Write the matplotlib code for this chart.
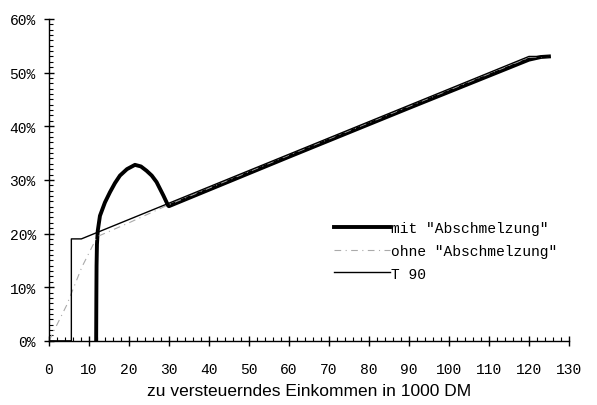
import matplotlib.pyplot as plt
from matplotlib.ticker import MultipleLocator, FuncFormatter

# income in 1000 DM, rate in %
t90_x = [0, 5.6, 5.6, 8.1, 120, 125]
t90_y = [0, 0, 19, 19, 53, 53]

mit_x = [11.8, 11.85, 11.9, 12.0, 12.2, 12.75, 14.0, 15.25, 16.5, 17.75, 19.5,
         21.5, 23.0, 24.4, 25.7, 26.9, 28.6, 29.8, 30, 60, 90, 120, 123, 125]
mit_y = [0, 8, 14, 18, 20.5, 23.3, 25.8, 27.7, 29.4, 30.8, 32.0,
         32.8, 32.5, 31.7, 30.8, 29.6, 27.1, 25.2, 25.1, 34.3, 43.4, 52.4, 52.9, 53]

ohne_x = [0, 4.4, 8.2, 11.1, 12, 20, 30, 60, 90, 120, 125]
ohne_y = [0, 6.6, 13.7, 18, 19.4, 22.0, 25.4, 34.6, 43.7, 52.8, 53]

plt.rcParams["font.family"] = "Liberation Mono"

fig = plt.figure(figsize=(5.97, 4.06), dpi=100)
ax = fig.add_axes([0.082, 0.158, 0.871, 0.793])

ax.plot(mit_x, mit_y, color="black", lw=2.8, label='mit "Abschmelzung"',
        solid_joinstyle="round")
ax.plot(ohne_x, ohne_y, color="#aaaaaa", lw=0.8, ls=(0, (6, 4, 1, 4)),
        label='ohne "Abschmelzung"')
ax.plot(t90_x, t90_y, color="black", lw=1.0, label="T 90")

ax.set_xlim(0, 130)
ax.set_ylim(0, 60)
ax.xaxis.set_major_locator(MultipleLocator(10))
ax.xaxis.set_minor_locator(MultipleLocator(2))
ax.yaxis.set_major_locator(MultipleLocator(10))
ax.yaxis.set_minor_locator(MultipleLocator(1))
ax.yaxis.set_major_formatter(FuncFormatter(lambda v, p: f"{v:.0f}%"))

for s in ["top", "right"]:
    ax.spines[s].set_visible(False)
ax.spines["left"].set_linewidth(1.0)
ax.spines["bottom"].set_linewidth(1.0)

ax.tick_params(which="major", direction="inout", length=7, width=1,
               labelsize=10.5, pad=6)
ax.tick_params(which="minor", direction="in", length=3, width=0.8)
ax.tick_params(axis="x", pad=12)

ax.set_xlabel("zu versteuerndes Einkommen in 1000 DM", family="Liberation Sans",
              fontsize=12.5, labelpad=5)

ax.legend(loc="upper left", bbox_to_anchor=(0.56, 0.453),
          bbox_transform=fig.transFigure, frameon=False, fontsize=10.5,
          handlelength=3.8, handletextpad=0.1, labelspacing=0.6,
          borderpad=0, borderaxespad=0)

fig.savefig("out.png", dpi=100)
